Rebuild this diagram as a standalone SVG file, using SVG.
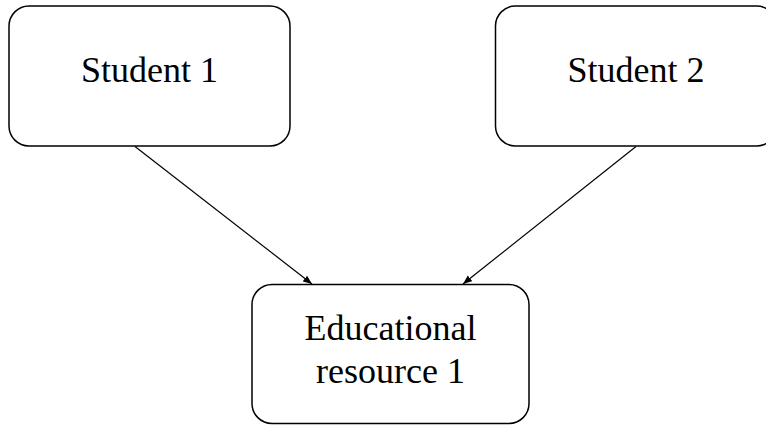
<svg xmlns="http://www.w3.org/2000/svg" width="766" height="425" viewBox="0 0 766 425">
  <style>
    .box { fill: #ffffff; stroke: #000000; stroke-width: 1.5; }
    .lbl { font-family: "Liberation Serif", "Times New Roman", serif; font-size: 36px; fill: #000000; text-anchor: middle; }
    .edge { stroke: #000000; stroke-width: 1.2; fill: none; marker-end: url(#arrow); }
  </style>
  <defs>
    <marker id="arrow" viewBox="0 0 10 10" refX="10" refY="5" markerWidth="9" markerHeight="9" markerUnits="userSpaceOnUse" orient="auto">
      <path d="M0,1 L10,5 L0,9 Z" fill="#000000"/>
    </marker>
  </defs>
  <rect width="766" height="425" fill="#ffffff"/>
  <g id="edges">
    <line class="edge" x1="135" y1="146.5" x2="312" y2="284"/>
    <line class="edge" x1="636" y1="146.5" x2="463" y2="284"/>
  </g>
  <g id="student1">
    <rect class="box" x="9" y="6" width="281" height="140" rx="20" ry="20"/>
    <text class="lbl" x="149.5" y="82">Student 1</text>
  </g>
  <g id="student2">
    <rect class="box" x="495.5" y="6" width="281" height="140" rx="20" ry="20"/>
    <text class="lbl" x="636" y="82">Student 2</text>
  </g>
  <g id="resource1">
    <rect class="box" x="252" y="284.5" width="277" height="139" rx="20" ry="20"/>
    <text class="lbl" x="390.5" y="340">Educational</text>
    <text class="lbl" x="390.5" y="383">resource 1</text>
  </g>
</svg>
